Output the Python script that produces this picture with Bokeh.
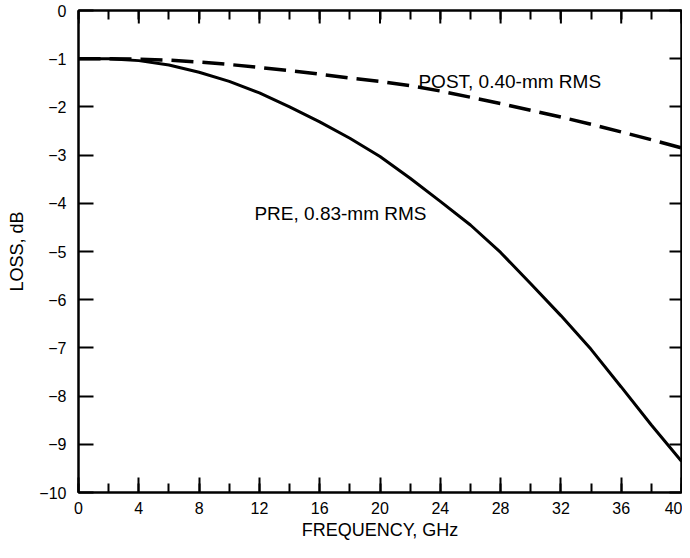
import math
from bokeh.plotting import figure
from bokeh.models import FixedTicker, LinearAxis, Label, Range1d
from bokeh.embed import file_html
from bokeh.resources import INLINE

# ---- data ----
freq_ghz = [0, 2, 4, 6, 8, 10, 12, 14, 16, 18, 20, 22, 24, 26, 28, 30, 32, 34, 36, 38, 40]
pre_loss = [-1.00, -1.00, -1.04, -1.13, -1.28, -1.47, -1.71, -2.00, -2.31, -2.65, -3.03,
            -3.48, -3.96, -4.45, -5.02, -5.67, -6.33, -7.03, -7.81, -8.60, -9.35]
post_loss = [-1.00, -1.00, -1.01, -1.03, -1.07, -1.12, -1.18, -1.25, -1.32, -1.40, -1.47,
             -1.56, -1.67, -1.80, -1.93, -2.07, -2.21, -2.36, -2.52, -2.68, -2.85]

x_major_ticks = [0, 4, 8, 12, 16, 20, 24, 28, 32, 36, 40]
x_minor_ticks = [0, 2, 4, 6, 8, 10, 12, 14, 16, 18, 20, 22, 24, 26, 28, 30, 32, 34, 36, 38, 40]
y_ticks = [0, -1, -2, -3, -4, -5, -6, -7, -8, -9, -10]
y_tick_labels = ["0", "\u22121", "\u22122", "\u22123", "\u22124", "\u22125",
                 "\u22126", "\u22127", "\u22128", "\u22129", "\u221210"]

x_title = "FREQUENCY, GHz"
y_title = "LOSS, dB"
post_label = "POST, 0.40-mm RMS"
pre_label = "PRE, 0.83-mm RMS"

FONT = "Liberation Sans"

p = figure(width=682, height=542, output_backend="svg", toolbar_location=None,
           x_range=Range1d(0, 40), y_range=Range1d(-10, 0),
           min_border_left=78, min_border_right=1, min_border_top=10, min_border_bottom=45)
p.grid.visible = False
p.outline_line_color = "black"
p.outline_line_width = 2
p.background_fill_color = "white"
p.border_fill_color = "white"

p.line(freq_ghz, pre_loss, line_color="black", line_width=3)
p.line(freq_ghz, post_loss, line_color="black", line_width=3.5, line_dash="22 9")


def base_style(ax):
    ax.axis_line_color = "black"
    ax.axis_line_width = 2
    ax.major_tick_out = 0
    ax.minor_tick_out = 0
    ax.major_tick_line_width = 2
    ax.minor_tick_line_width = 2
    ax.major_tick_line_color = "black"
    ax.minor_tick_line_color = "black"
    ax.major_label_text_font = FONT
    ax.major_label_text_color = "black"
    ax.major_label_text_font_size = "16px"
    ax.axis_label_text_font = FONT
    ax.axis_label_text_font_style = "normal"
    ax.axis_label_text_color = "black"
    ax.axis_label_text_font_size = "18px"


xb = p.xaxis[0]
base_style(xb)
xb.ticker = FixedTicker(ticks=x_major_ticks, minor_ticks=x_minor_ticks)
xb.major_tick_in = 15
xb.minor_tick_in = 9
xb.axis_label = x_title
xb.major_label_standoff = 9
xb.axis_label_standoff = 3

yl = p.yaxis[0]
base_style(yl)
yl.ticker = FixedTicker(ticks=y_ticks, minor_ticks=[])
yl.major_tick_in = 15
yl.minor_tick_in = 0
yl.axis_label = y_title
yl.major_label_standoff = 12
yl.axis_label_standoff = 9
yl.major_label_overrides = {t: s for t, s in zip(y_ticks, y_tick_labels)}

# top axis: unlabeled; minor ticks via axis, major ticks via clipped dash markers
xt = LinearAxis()
base_style(xt)
xt.ticker = FixedTicker(ticks=[], minor_ticks=x_minor_ticks)
xt.minor_tick_in = 9
p.add_layout(xt, "above")
p.scatter(x_major_ticks, [0] * len(x_major_ticks), marker="dash", size=26,
          angle=math.pi / 2, line_color="black", line_width=2)

# right axis: unlabeled ticks at every integer
yr = LinearAxis()
base_style(yr)
yr.ticker = FixedTicker(ticks=[], minor_ticks=y_ticks)
yr.minor_tick_in = 12
p.add_layout(yr, "right")

p.add_layout(Label(x=22.55, y=-1.48, text=post_label, text_font=FONT, text_font_size="19px",
                   text_color="black", text_baseline="alphabetic", text_align="left"))
p.add_layout(Label(x=11.67, y=-4.21, text=pre_label, text_font=FONT, text_font_size="19px",
                   text_color="black", text_baseline="alphabetic", text_align="left"))

open("out.html", "w").write(file_html(p, INLINE))
